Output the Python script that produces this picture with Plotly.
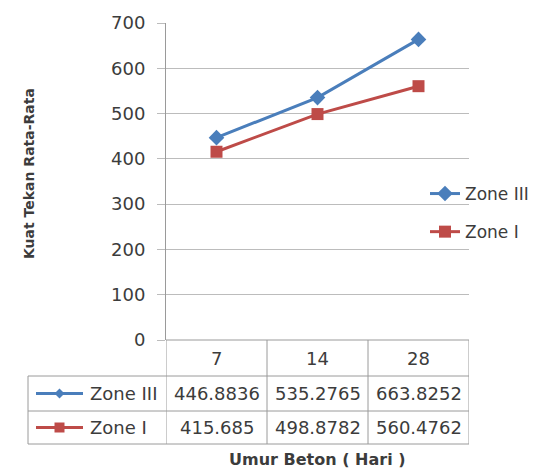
import plotly.graph_objects as go

# ---- data ----
categories = ["7", "14", "28"]
series_names = ["Zone III", "Zone I"]
zone3 = [446.8836, 535.2765, 663.8252]
zone1 = [415.685, 498.8782, 560.4762]
y_ticks = [0, 100, 200, 300, 400, 500, 600, 700]

W, H = 535, 470
def px(x):
    return x / W
def py(y):
    return 1 - y / H

BLUE = "#4A7EBB"
RED = "#BE4B48"
TXT = "#3c3c3c"
GRID = "#bcbcbc"
BORDER = "#9a9a9a"
FONT = "DejaVu Sans"

# layout positions (pixels)
PL, PR, PT, PB = 166, 469, 23, 340
ROW_Y = [340, 376, 411, 444]      # table horizontal lines
LABEL_L = 28

fig = go.Figure()
fig.add_trace(go.Scatter(
    x=categories, y=zone3, name=series_names[0], mode="lines+markers",
    line=dict(color=BLUE, width=3), marker=dict(symbol="diamond", size=12, color=BLUE),
    legendgroup="a"))
fig.add_trace(go.Scatter(
    x=categories, y=zone1, name=series_names[1], mode="lines+markers",
    line=dict(color=RED, width=3), marker=dict(symbol="square", size=12, color=RED),
    legendgroup="b"))

shapes = []
# legend keys inside the data table
def key_shapes(col, sym, yc, cx=59.5):
    out = [dict(type="line", xref="paper", yref="paper", x0=px(36), x1=px(83),
                y0=py(yc), y1=py(yc), line=dict(color=col, width=3))]
    r = 5
    if sym == "diamond":
        path = (f"M {px(cx)},{py(yc - r)} L {px(cx + r)},{py(yc)} "
                f"L {px(cx)},{py(yc + r)} L {px(cx - r)},{py(yc)} Z")
        out.append(dict(type="path", xref="paper", yref="paper", path=path,
                        fillcolor=col, line=dict(color=col, width=0)))
    else:
        out.append(dict(type="rect", xref="paper", yref="paper", x0=px(cx - r), x1=px(cx + r),
                        y0=py(yc + r), y1=py(yc - r), fillcolor=col, line=dict(color=col, width=0)))
    return out

shapes += key_shapes(BLUE, "diamond", (ROW_Y[1] + ROW_Y[2]) / 2)
shapes += key_shapes(RED, "square", (ROW_Y[2] + ROW_Y[3]) / 2)

# horizontal table lines
shapes.append(dict(type="line", xref="paper", yref="paper", x0=px(PL), x1=px(PR),
                   y0=py(ROW_Y[0]), y1=py(ROW_Y[0]), line=dict(color=BORDER, width=1)))
for ry in ROW_Y[1:]:
    shapes.append(dict(type="line", xref="paper", yref="paper", x0=px(LABEL_L), x1=px(PR),
                       y0=py(ry), y1=py(ry), line=dict(color=BORDER, width=1)))
# vertical table lines: at category boundaries (axis coordinates)
for i in range(len(categories) + 1):
    shapes.append(dict(type="line", xref="x", yref="paper", x0=i - 0.5, x1=i - 0.5,
                       y0=py(ROW_Y[0]), y1=py(ROW_Y[-1]), line=dict(color=BORDER, width=1)))
shapes.append(dict(type="line", xref="paper", yref="paper", x0=px(LABEL_L), x1=px(LABEL_L),
                   y0=py(ROW_Y[1]), y1=py(ROW_Y[-1]), line=dict(color=BORDER, width=1)))

annotations = []
# category header
for i, c in enumerate(categories):
    annotations.append(dict(x=i, xref="x", y=py((ROW_Y[0] + ROW_Y[1]) / 2), yref="paper",
                            xanchor="center", yanchor="middle",
                            text=c, showarrow=False, font=dict(family=FONT, size=18, color=TXT)))
# values rows
for r, (name, vals) in enumerate(zip(series_names, [zone3, zone1])):
    yc = (ROW_Y[r + 1] + ROW_Y[r + 2]) / 2
    annotations.append(dict(x=px(88), xref="paper", xanchor="left", y=py(yc), yref="paper",
                            yanchor="middle",
                            text=name, showarrow=False, font=dict(family=FONT, size=18, color=TXT)))
    for i, v in enumerate(vals):
        annotations.append(dict(x=i, xref="x", y=py(yc), yref="paper", text=str(v),
                                xanchor="center", yanchor="middle",
                                showarrow=False, font=dict(family=FONT, size=18, color=TXT)))
# axis titles
annotations.append(dict(x=px(317), y=py(459), xref="paper", yref="paper", text="<b>Umur Beton ( Hari )</b>",
                        xanchor="center", yanchor="middle",
                        showarrow=False, font=dict(family=FONT, size=16, color=TXT)))
annotations.append(dict(x=px(29), y=py(174), xref="paper", yref="paper", text="<b>Kuat Tekan Rata-Rata</b>",
                        xanchor="center", yanchor="middle",
                        textangle=-90, showarrow=False, font=dict(family=FONT, size=14, color=TXT)))

fig.update_layout(
    width=W, height=H, margin=dict(l=0, r=0, t=0, b=0, autoexpand=False),
    paper_bgcolor="white", plot_bgcolor="white",
    font=dict(family=FONT, color=TXT),
    showlegend=True,
    legend=dict(x=px(425), y=py(176), xanchor="left", yanchor="top",
                font=dict(family=FONT, size=17, color=TXT), tracegroupgap=13,
                bgcolor="rgba(0,0,0,0)"),
    xaxis=dict(domain=[px(PL), px(PR)], type="category", range=[-0.5, 2.5], automargin=False,
               showticklabels=False, showgrid=False, zeroline=False, showline=False, ticks=""),
    yaxis=dict(domain=[py(PB), py(PT)], range=[0, 700], tickvals=y_ticks, automargin=False,
               showgrid=True, gridcolor=GRID, gridwidth=1, zeroline=False,
               showline=True, linecolor=BORDER, linewidth=1,
               ticks="outside", ticklen=8, tickcolor=GRID, ticklabelstandoff=8,
               tickfont=dict(family=FONT, size=18, color=TXT)),
    shapes=shapes, annotations=annotations,
)

fig.write_html("out.html", config={"displayModeBar": False},
               post_script="document.body.style.margin='0';")
